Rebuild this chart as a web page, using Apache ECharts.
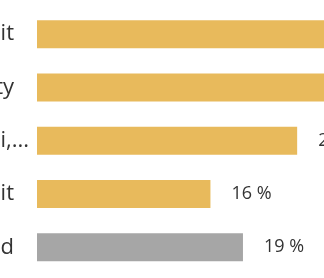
<!DOCTYPE html>
<html><head><meta charset="utf-8">
<script src="https://cdn.jsdelivr.net/npm/echarts@6/dist/echarts.min.js"></script>
<style>html,body{margin:0;padding:0;background:#fff}#c{width:324px;height:278px}</style>
</head><body><div id="c"></div>
<script>
const categories = ["Deposit", "Quality", "Delhi, Mumbai,...", "Credit", "World"];
const values = [34, 31, 24, 16, 19];
const highlight = [false, false, false, false, true];
const truncated = [false, false, true, false, false];

const chart = echarts.init(document.getElementById('c'));
chart.setOption({
  animation: false,
  grid: { left: 37, top: 7.5, width: 433.6, height: 266.5, containLabel: false, outerBoundsMode: 'none' },
  xAxis: { type: 'value', min: 0, max: 40, show: false },
  yAxis: {
    type: 'category', inverse: true, data: categories,
    axisLine: { show: false }, axisTick: { show: false },
    axisLabel: {
      align: 'left', margin: 123,
      fontFamily: 'Open Sans', fontSize: 22, color: '#333333',
      formatter: (v, i) => (truncated[i] ? '{t|' : '{n|') + v + '}',
      rich: {
        n: { width: 100, align: 'right', fontFamily: 'Open Sans', fontSize: 22, color: '#333333' },
        t: { width: 115, align: 'right', fontFamily: 'Open Sans', fontSize: 22, color: '#333333' }
      }
    }
  },
  series: [{
    type: 'bar', barWidth: 28,
    data: values.map((v, i) => ({ value: v, itemStyle: { color: highlight[i] ? '#A6A6A6' : '#E8BA5C' } })),
    label: {
      show: true, position: 'right', distance: 21,
      fontFamily: 'Open Sans', fontSize: 18, color: '#333333',
      formatter: '{c} %'
    }
  }]
});
</script></body></html>
